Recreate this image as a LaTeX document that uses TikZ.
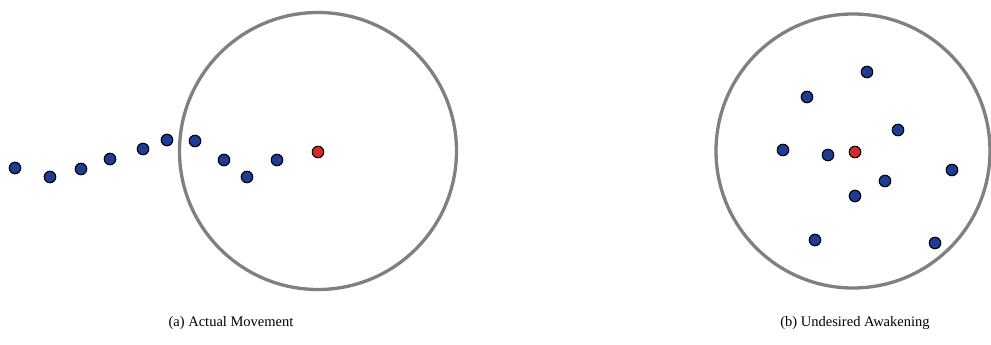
\documentclass[tikz,border=0pt]{standalone}
\usepackage{fontspec}
\setmainfont{Liberation Serif}
\definecolor{dotblue}{HTML}{1F3C94}
\definecolor{dotred}{HTML}{D42A2A}
\definecolor{ringgray}{HTML}{808080}
\tikzset{
  ring/.style={draw=ringgray, line width=3.3pt},
  bdot/.style={circle, draw=black, line width=1.1pt, fill=dotblue, minimum size=11.5pt, inner sep=0pt},
  rdot/.style={circle, draw=black, line width=1.1pt, fill=dotred, minimum size=11.5pt, inner sep=0pt},
  captext/.style={font=\fontsize{14.5}{17}\selectfont, text=black}
}
\begin{document}
\begin{tikzpicture}[x=1pt,y=-1pt]
\useasboundingbox (0,0) rectangle (991,345);
% left panel
\node[draw=none, circle, minimum size=277pt, inner sep=0pt] (ringA) at (318,151) {};
\draw[ring] (ringA.center) circle (138.5);
\node[bdot] (a1) at (15,168) {};
\node[bdot] (a2) at (50,177) {};
\node[bdot] (a3) at (81,169) {};
\node[bdot] (a4) at (110,159) {};
\node[bdot] (a5) at (143,149) {};
\node[bdot] (a6) at (167,140) {};
\node[bdot] (a7) at (195,141) {};
\node[bdot] (a8) at (224,160) {};
\node[bdot] (a9) at (247,177) {};
\node[bdot] (a10) at (277,160) {};
\node[rdot] (ac) at (318,152) {};
\node[captext] (capA) at (231,323) {(a) Actual Movement};
% right panel
\node[draw=none, circle, minimum size=274pt, inner sep=0pt] (ringB) at (853,151) {};
\draw[ring] (ringB.center) circle (137);
\node[bdot] (b1) at (867,72) {};
\node[bdot] (b2) at (807,97) {};
\node[bdot] (b3) at (898,130) {};
\node[bdot] (b4) at (783,150) {};
\node[bdot] (b5) at (828,155) {};
\node[rdot] (bc) at (855,152) {};
\node[bdot] (b6) at (952,170) {};
\node[bdot] (b7) at (885,181) {};
\node[bdot] (b8) at (855,196) {};
\node[bdot] (b9) at (815,240) {};
\node[bdot] (b10) at (935,243) {};
\node[captext] (capB) at (855,323) {(b) Undesired Awakening};
\end{tikzpicture}
\end{document}
